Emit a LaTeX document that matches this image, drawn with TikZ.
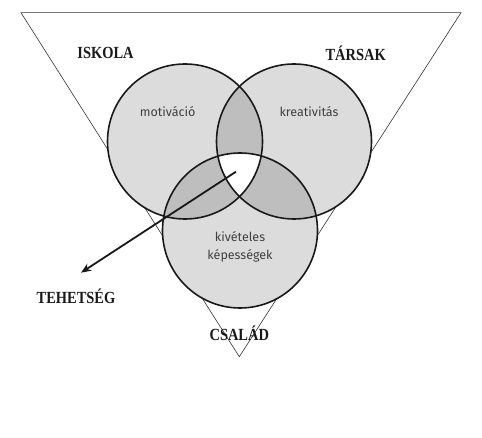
\documentclass[tikz,border=0pt]{standalone}
\usepackage{fontspec}
\usepackage{graphicx}
\setmainfont{Liberation Serif}
\newfontfamily\innerfont{Fira Sans}
\usetikzlibrary{arrows.meta}
\definecolor{lightfill}{HTML}{DCDCDC}
\definecolor{darkfill}{HTML}{BEBEBE}
\definecolor{innertext}{HTML}{404040}
\newcommand{\outerlbl}[1]{\scalebox{0.85}[1]{#1}}
\tikzset{
  outer/.style={font=\fontsize{17}{19}\selectfont\bfseries, text=black!90, inner sep=0pt},
  inner/.style={font=\innerfont\fontsize{12.5}{18}\selectfont, text=innertext, align=center},
  ring/.style={draw=black!90, line width=1.6pt},
}
\begin{document}
\begin{tikzpicture}[x=1pt,y=-1pt]
\useasboundingbox (0,0) rectangle (482,438);
% triangle
\coordinate (tl) at (21,12.7);
\coordinate (tr) at (461,12.7);
\coordinate (bt) at (239.3,356.7);
\draw[black!80, line width=0.6pt] (tl) -- (tr) -- (bt) -- cycle;
% circle centres
\coordinate (cA) at (185,141.5);
\coordinate (cB) at (294,141.5);
\coordinate (cC) at (240,230.5);
\def\rr{77.5}
% fills
\fill[lightfill] (cA) circle (\rr);
\fill[lightfill] (cB) circle (\rr);
\fill[lightfill] (cC) circle (\rr);
\begin{scope}
  \clip (cA) circle (\rr);
  \fill[darkfill] (cB) circle (\rr);
  \fill[darkfill] (cC) circle (\rr);
\end{scope}
\begin{scope}
  \clip (cB) circle (\rr);
  \fill[darkfill] (cC) circle (\rr);
\end{scope}
\begin{scope}
  \clip (cA) circle (\rr);
  \clip (cB) circle (\rr);
  \fill[white] (cC) circle (\rr);
\end{scope}
% outlines
\node[circle, ring, minimum size=155pt, inner sep=0pt] (A) at (cA) {};
\node[circle, ring, minimum size=155pt, inner sep=0pt] (B) at (cB) {};
\node[circle, ring, minimum size=155pt, inner sep=0pt] (C) at (cC) {};
% inner labels
\node[inner] (mot) at (167.7,111.7) {motiváció};
\node[inner] (kre) at (309,111.7) {kreativitás};
\node[inner] (kiv) at (240,247) {kivételes\\képességek};
% outer labels
\node[outer] (isk) at (105.5,52.5) {\outerlbl{ISKOLA}};
\node[outer] (tar) at (355.7,53.3) {\outerlbl{TÁRSAK}};
\node[outer] (teh) at (76,296) {\outerlbl{TEHETSÉG}};
\node[outer] (csa) at (239.3,333.3) {\outerlbl{CSALÁD}};
% arrow
\coordinate (as) at (236,171.7);
\coordinate (ae) at (81,272.7);
\draw[black!90, line width=1.8pt, -{Stealth[length=10pt,width=8pt,inset=3pt]}] (as) -- (ae);
\end{tikzpicture}
\end{document}
